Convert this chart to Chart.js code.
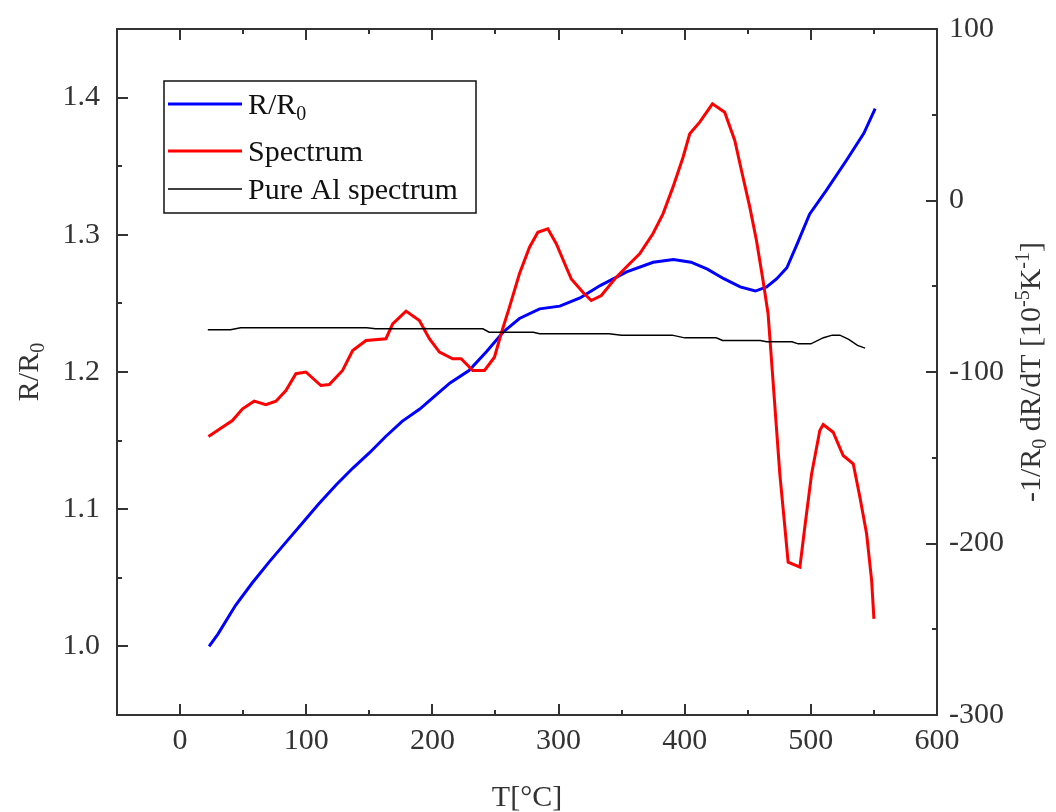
<!DOCTYPE html>
<html><head><meta charset="utf-8">
<script src="https://cdn.jsdelivr.net/npm/chart.js@4.4.0/dist/chart.umd.min.js"></script>
<style>html,body{margin:0;padding:0;background:#fff}canvas{display:block}</style>
</head><body>
<canvas id="c" width="1056" height="812"></canvas>
<script>
// ---- data ----
const blueT = [23,30,44,57,71,84,97,110,124,137,150,163,176,190,200,214,229,243,256,269,285,301,317,333,354,375,391,405,418,431,444,456,465,473,481,489,499,512,528,542,551];
const blueR = [1.000,1.009,1.030,1.046,1.062,1.076,1.090,1.104,1.118,1.130,1.141,1.153,1.164,1.173,1.181,1.192,1.201,1.215,1.229,1.239,1.246,1.248,1.254,1.263,1.273,1.280,1.282,1.280,1.275,1.268,1.262,1.259,1.262,1.268,1.276,1.293,1.315,1.332,1.354,1.374,1.392];

const redT = [22.5,32,41.5,49.5,58.7,68,76,83.9,91.8,99.7,111.6,118.3,128.8,136.8,147.4,163.2,168.5,179.1,189.7,197.6,205.6,216.1,222.8,232,241.3,249.2,254.5,261.1,269,277,283.6,291.5,298.2,306.1,310.1,319.3,325.9,333.9,345.8,356.3,364.3,374.8,382.8,390.7,398.7,404,411.9,422,431.7,439.7,445,451.6,456.9,462.1,466.1,470,475.4,479.4,482,491.3,495.2,500.6,507.1,509.8,517.7,525.6,533.6,538.9,544.2,548.2,550];
const redS = [-137.6,-133,-128.3,-121.5,-117,-119,-117,-110.8,-101,-100,-107.9,-107.3,-99.1,-87.5,-81.6,-80.6,-71.9,-64.5,-70,-80.6,-88.4,-92.3,-92.3,-99.1,-99.1,-91.4,-77.7,-62.2,-42.7,-27.2,-18.5,-16.5,-25.2,-38.9,-45.7,-53.5,-58.3,-55.4,-44.7,-36.9,-31.1,-19.4,-7.8,7.8,25.2,38.9,45.7,56.4,51.5,35,17.5,-3.9,-23.3,-46.6,-66,-105,-159.4,-190.5,-210.9,-213.8,-190.5,-159.4,-134.1,-130.6,-135.1,-148.7,-153.5,-173,-194.3,-221.6,-243.9];

const alT = [22,40,48,100,148,155,200,240,245,280,285,340,350,390,400,425,430,460,465,485,490,500,510,517,523,530,537,543];
const alS = [-75.4,-75.4,-74.2,-74.2,-74.2,-74.8,-74.8,-74.8,-76.8,-76.8,-77.7,-77.7,-78.5,-78.5,-80.1,-80.1,-81.6,-81.6,-82.4,-82.4,-83.6,-83.6,-80,-78.5,-78.5,-81,-84.5,-86.1];

const seriesLabels = ['R/R_{0}', 'Spectrum', 'Pure Al spectrum'];
const xTitle = 'T[°C]';
const yLeftTitle = 'R/R_{0}';
const yRightTitle = '-1/R_{0} dR/dT [10^{-5}K^{-1}]';

const FONT = '"Liberation Serif", "Times New Roman", serif';
const TXT = '#333';

function pts(xs, ys){ return xs.map((x,i)=>({x:x, y:ys[i]})); }

// rich text with _{sub} and ^{sup}
function parseRich(s){
  const out=[]; let i=0, buf='';
  while(i<s.length){
    const c=s[i];
    if((c==='_'||c==='^') && s[i+1]==='{'){
      if(buf){out.push({t:buf,m:0});buf='';}
      const end=s.indexOf('}',i+2);
      out.push({t:s.slice(i+2,end), m: c==='_'?1:2});
      i=end+1; continue;
    }
    buf+=c; i++;
  }
  if(buf) out.push({t:buf,m:0});
  return out;
}
function segFont(m,size){ return (m?Math.round(size*0.65):size)+'px '+FONT; }
function richWidth(ctx,s,size){
  let w=0; parseRich(s).forEach(g=>{ctx.font=segFont(g.m,size); w+=ctx.measureText(g.t).width;}); return w;
}
function drawRich(ctx,s,x,y,size,align){
  const w=richWidth(ctx,s,size);
  let cx = align==='center' ? x-w/2 : x;
  ctx.textBaseline='alphabetic'; ctx.textAlign='left';
  parseRich(s).forEach(g=>{
    ctx.font=segFont(g.m,size);
    const dy = g.m===1 ? size*0.2 : (g.m===2 ? -size*0.38 : 0);
    ctx.fillText(g.t,cx,y+dy);
    cx+=ctx.measureText(g.t).width;
  });
}

const decor = {
  id:'decor',
  afterDatasetsDraw(chart){
    const {ctx, chartArea:a, scales} = chart;
    ctx.save();
    ctx.strokeStyle=TXT; ctx.lineWidth=2;
    ctx.strokeRect(a.left, a.top, a.right-a.left, a.bottom-a.top);
    ctx.beginPath();
    const x=scales.x;
    x.ticks.forEach(t=>{
      const px=Math.round(x.getPixelForValue(t.value));
      const L = Math.round(t.value)%100===0 ? 11 : 5;
      ctx.moveTo(px,a.bottom); ctx.lineTo(px,a.bottom-L);
      ctx.moveTo(px,a.top); ctx.lineTo(px,a.top+L);
    });
    const yl=scales.y;
    yl.ticks.forEach(t=>{
      const py=Math.round(yl.getPixelForValue(t.value));
      const L = Math.round(t.value*20)%2===0 ? 11 : 5;
      ctx.moveTo(a.left,py); ctx.lineTo(a.left+L,py);
    });
    const yr=scales.y2;
    yr.ticks.forEach(t=>{
      const py=Math.round(yr.getPixelForValue(t.value));
      const L = Math.round(t.value)%100===0 ? 11 : 5;
      ctx.moveTo(a.right,py); ctx.lineTo(a.right-L,py);
    });
    ctx.stroke();

    // legend
    const lx=164, ly=81, lw=312, lh=132;
    ctx.fillStyle='#fff'; ctx.fillRect(lx,ly,lw,lh);
    ctx.strokeStyle='#111'; ctx.lineWidth=1.5; ctx.strokeRect(lx,ly,lw,lh);
    const rows=[104,151,189];
    chart.data.datasets.forEach((ds,i)=>{
      ctx.strokeStyle=ds.borderColor; ctx.lineWidth=ds.borderWidth;
      ctx.beginPath(); ctx.moveTo(168,rows[i]); ctx.lineTo(242,rows[i]); ctx.stroke();
      ctx.fillStyle='#111';
      drawRich(ctx, ds.label, 248, rows[i]+10, 30, 'left');
    });

    // axis titles
    ctx.fillStyle=TXT;
    drawRich(ctx, xTitle, (a.left+a.right)/2, 806, 30, 'center');
    ctx.save(); ctx.translate(38, (a.top+a.bottom)/2); ctx.rotate(-Math.PI/2);
    drawRich(ctx, yLeftTitle, 0, 0, 30, 'center'); ctx.restore();
    ctx.save(); ctx.translate(1040, (a.top+a.bottom)/2); ctx.rotate(-Math.PI/2);
    drawRich(ctx, yRightTitle, 0, 0, 30, 'center'); ctx.restore();
    ctx.restore();
  }
};

Chart.defaults.font.family = FONT;
Chart.defaults.color = TXT;

function zeroPad(s){ s.paddingTop=0; s.paddingBottom=0; s.paddingLeft=0; s.paddingRight=0; }

new Chart(document.getElementById('c'), {
  type:'line',
  data:{ datasets:[
    {label:seriesLabels[0], data:pts(blueT,blueR), yAxisID:'y', borderColor:'#0000ff', borderWidth:3, pointRadius:0, tension:0, order:2},
    {label:seriesLabels[1], data:pts(redT,redS), yAxisID:'y2', borderColor:'#ff0000', borderWidth:3, pointRadius:0, tension:0, order:1},
    {label:seriesLabels[2], data:pts(alT,alS), yAxisID:'y2', borderColor:'#000000', borderWidth:1.5, pointRadius:0, tension:0, order:0}
  ]},
  options:{
    responsive:false, animation:false,
    layout:{padding:{top:29,left:0,right:0,bottom:0}},
    plugins:{legend:{display:false}, tooltip:{enabled:false}},
    scales:{
      x:{type:'linear', position:'bottom', min:-50, max:600,
        grid:{display:false, drawTicks:false, tickLength:0}, border:{display:false},
        ticks:{stepSize:50, autoSkip:false, maxRotation:0, padding:8, font:{size:30}, color:TXT,
          callback:v=> (Math.round(v)%100===0 ? String(Math.round(v)) : '')},
        afterFit:s=>{s.height=97; zeroPad(s);}},
      y:{type:'linear', position:'left', min:0.95, max:1.45,
        grid:{display:false, drawTicks:false, tickLength:0}, border:{display:false},
        ticks:{stepSize:0.05, autoSkip:false, padding:17, font:{size:30}, color:TXT,
          callback:v=>{const r=Math.round(v*20); return r%2===0 ? (r/20).toFixed(1) : '';}},
        afterFit:s=>{s.width=117; zeroPad(s);}},
      y2:{type:'linear', position:'right', min:-300, max:100,
        grid:{display:false, drawTicks:false, tickLength:0}, border:{display:false},
        ticks:{stepSize:50, autoSkip:false, padding:12, font:{size:30}, color:TXT,
          callback:v=> (Math.round(v)%100===0 ? String(Math.round(v)) : '')},
        afterFit:s=>{s.width=119; zeroPad(s);}}
    }
  },
  plugins:[decor]
});
</script>
</body></html>
